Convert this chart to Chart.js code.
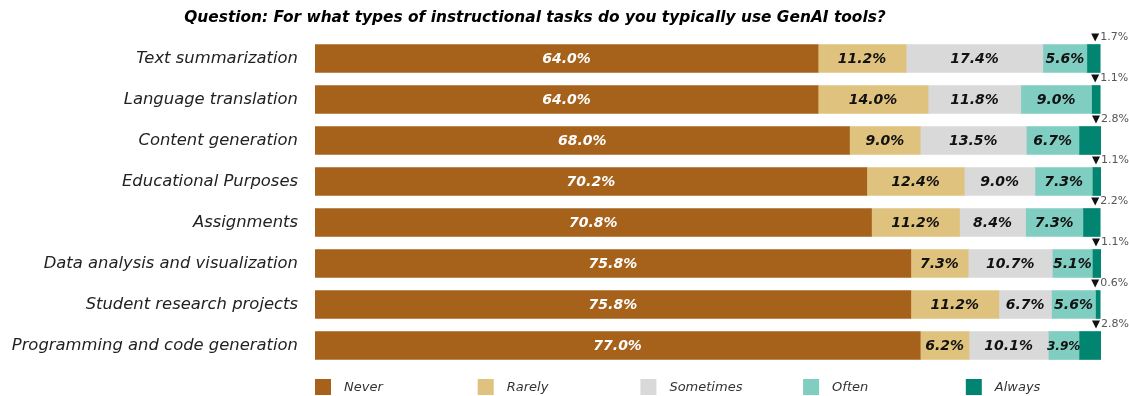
<!DOCTYPE html>
<html>
<head>
<meta charset="utf-8">
<script src="https://cdn.jsdelivr.net/npm/chart.js@4.4.1/dist/chart.umd.min.js"></script>
<style>
  html, body { margin: 0; padding: 0; background: #fff; }
  #wrap { width: 1129px; height: 396px; position: relative; }
</style>
</head>
<body>
<div id="wrap"><canvas id="usageChart" width="1129" height="396"></canvas></div>
<script>
// Survey answers per task, in percent of respondents
const tasks = [
    'Text summarization',
    'Language translation',
    'Content generation',
    'Educational Purposes',
    'Assignments',
    'Data analysis and visualization',
    'Student research projects',
    'Programming and code generation'
];
const never     = [64.0, 64.0, 68.0, 70.2, 70.8, 75.8, 75.8, 77.0];
const rarely    = [11.2, 14.0, 9.0, 12.4, 11.2, 7.3, 11.2, 6.2];
const sometimes = [17.4, 11.8, 13.5, 9.0, 8.4, 10.7, 6.7, 10.1];
const often     = [5.6, 9.0, 6.7, 7.3, 7.3, 5.1, 5.6, 3.9];
const always    = [1.7, 1.1, 2.8, 1.1, 2.2, 1.1, 0.6, 2.8];

const answerNames = ['Never', 'Rarely', 'Sometimes', 'Often', 'Always'];
const answerColors = ['#a6611a', '#dfc27d', '#d9d9d9', '#80cdc1', '#018571'];

const titleText = 'Question: For what types of instructional tasks do you typically use GenAI tools?';
const fontFamily = '"DejaVu Sans", sans-serif';

// value labels inside the segments, plus the small "▼x%" note for Always
const segmentLabels = {
    id: 'segmentLabels',
    afterDatasetsDraw(chart) {
        const ctx = chart.ctx;
        ctx.save();
        ctx.textBaseline = 'middle';
        chart.data.datasets.forEach((ds, di) => {
            const meta = chart.getDatasetMeta(di);
            meta.data.forEach((bar, i) => {
                const v = ds.data[i];
                const text = v.toFixed(1) + '%';
                if (di === 4) {
                    const ty = bar.y - bar.height / 2 - 7;
                    // down-pointing marker
                    ctx.fillStyle = '#111';
                    ctx.beginPath();
                    ctx.moveTo(bar.x - 9, ty - 4);
                    ctx.lineTo(bar.x - 1, ty - 4);
                    ctx.lineTo(bar.x - 5, ty + 4);
                    ctx.closePath();
                    ctx.fill();
                    ctx.textAlign = 'left';
                    ctx.font = '11px ' + fontFamily;
                    ctx.fillStyle = '#555';
                    ctx.fillText(text, bar.x, ty);
                    return;
                }
                const w = bar.x - bar.base;
                let size = 14;
                ctx.font = 'italic bold ' + size + 'px ' + fontFamily;
                while (ctx.measureText(text).width > w + 3 && size > 8) {
                    size--;
                    ctx.font = 'italic bold ' + size + 'px ' + fontFamily;
                }
                ctx.fillStyle = di === 0 ? '#ffffff' : '#111111';
                ctx.textAlign = 'center';
                ctx.fillText(text, (bar.x + bar.base) / 2, bar.y + 1);
            });
        });
        ctx.restore();
    }
};

// title and evenly spaced legend drawn on the canvas
const frame = {
    id: 'frame',
    afterDraw(chart) {
        const ctx = chart.ctx;
        const area = chart.chartArea;
        ctx.save();
        ctx.font = 'italic bold 15.4px ' + fontFamily;
        ctx.fillStyle = '#000';
        ctx.textAlign = 'center';
        ctx.textBaseline = 'middle';
        ctx.fillText(titleText, 535, 18);

        ctx.font = 'italic 13px ' + fontFamily;
        ctx.textAlign = 'left';
        answerNames.forEach((name, i) => {
            const x = area.left + i * 162.7;
            ctx.fillStyle = answerColors[i];
            ctx.fillRect(x, 379, 16, 16);
            ctx.fillStyle = '#333';
            ctx.fillText(name, x + 29, 388);
        });
        ctx.restore();
    }
};

document.addEventListener('DOMContentLoaded', function() {
    const series = [never, rarely, sometimes, often, always];
    const ctx = document.getElementById('usageChart').getContext('2d');
    new Chart(ctx, {
        type: 'bar',
        data: {
            labels: tasks,
            datasets: series.map((data, i) => ({
                label: answerNames[i],
                data: data,
                backgroundColor: answerColors[i],
                borderWidth: 0,
                barThickness: 28
            }))
        },
        options: {
            indexAxis: 'y',
            responsive: false,
            animation: false,
            layout: { padding: { top: 38, bottom: 30, right: 28, left: 0 } },
            plugins: {
                legend: { display: false },
                title: { display: false },
                tooltip: { enabled: false }
            },
            scales: {
                x: {
                    stacked: true,
                    display: false,
                    min: 0,
                    max: 100
                },
                y: {
                    stacked: true,
                    grid: { display: false, drawTicks: false },
                    border: { display: false },
                    afterFit(scale) { scale.width = 315; },
                    ticks: {
                        padding: 17,
                        color: '#222',
                        font: { family: fontFamily, size: 16.4, style: 'italic' }
                    }
                }
            }
        },
        plugins: [segmentLabels, frame]
    });
});
</script>
</body>
</html>
